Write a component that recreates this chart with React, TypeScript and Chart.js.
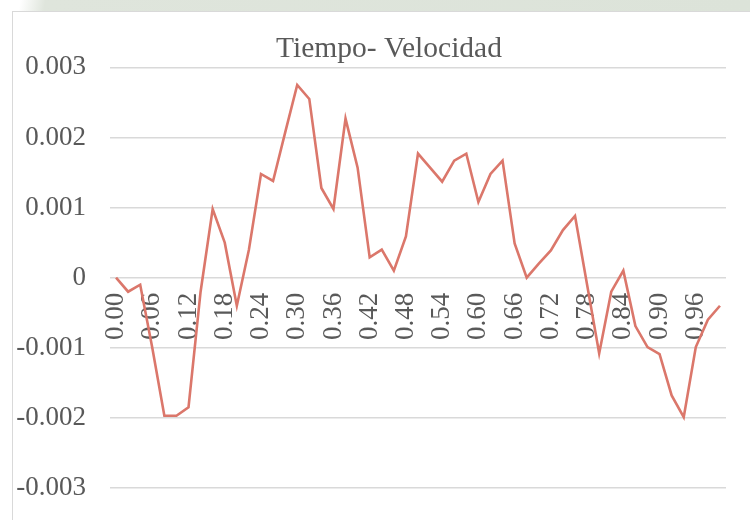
import React, { useEffect, useRef } from "react";
import { Chart, registerables } from "chart.js";

Chart.register(...registerables);

const categories: string[] = [
  "0.00", "0.02", "0.04", "0.06", "0.08", "0.10", "0.12", "0.14", "0.16", "0.18",
  "0.20", "0.22", "0.24", "0.26", "0.28", "0.30", "0.32", "0.34", "0.36", "0.38",
  "0.40", "0.42", "0.44", "0.46", "0.48", "0.50", "0.52", "0.54", "0.56", "0.58",
  "0.60", "0.62", "0.64", "0.66", "0.68", "0.70", "0.72", "0.74", "0.76", "0.78",
  "0.80", "0.82", "0.84", "0.86", "0.88", "0.90", "0.92", "0.94", "0.96", "0.98",
  "1.00",
];

const velocidad: number[] = [
  0, -0.0002, -0.0001, -0.001, -0.00197, -0.00197, -0.00185, -0.0002, 0.00098, 0.0005,
  -0.0004, 0.0004, 0.00148, 0.00138, 0.00207, 0.00275, 0.00255, 0.00128, 0.00098, 0.00227,
  0.00157, 0.00029, 0.0004, 0.0001, 0.00059, 0.00177, 0.00157, 0.00137, 0.00167, 0.00177,
  0.00108, 0.00148, 0.00167, 0.00049, 0, 0.0002, 0.00039, 0.00068, 0.00088, -0.0001,
  -0.00108, -0.0002, 0.0001, -0.00069, -0.00099, -0.00109, -0.00168, -0.00199, -0.00099, -0.0006,
  -0.0004,
];

const shownTickLabels: string[] = [
  "0.00", "0.06", "0.12", "0.18", "0.24", "0.30", "0.36", "0.42", "0.48",
  "0.54", "0.60", "0.66", "0.72", "0.78", "0.84", "0.90", "0.96",
];

const yTicks: number[] = [-0.003, -0.002, -0.001, 0, 0.001, 0.002, 0.003];

const chartTitle = "Tiempo- Velocidad";

export default function App() {
  const canvasRef = useRef<HTMLCanvasElement | null>(null);

  useEffect(() => {
    const canvas = canvasRef.current;
    if (!canvas) return;
    const font = "'Liberation Serif', 'Times New Roman', serif";
    const chart = new Chart(canvas, {
      type: "line",
      data: {
        labels: categories,
        datasets: [
          {
            label: chartTitle,
            data: velocidad,
            yAxisID: "y",
            borderColor: "#DB776B",
            backgroundColor: "#DB776B",
            borderWidth: 2.6,
            pointRadius: 0,
            tension: 0,
            fill: false,
          },
        ],
      },
      options: {
        responsive: false,
        animation: false,
        devicePixelRatio: 1,
        layout: { padding: { left: 0, right: 0, top: 0, bottom: 32 } },
        plugins: {
          legend: { display: false },
          tooltip: { enabled: false },
          title: {
            display: true,
            text: chartTitle,
            color: "#595959",
            font: { family: font, size: 29.5, weight: "normal", lineHeight: 1.2 },
            padding: { top: 32, bottom: 0 },
          },
        },
        scales: {
          x: {
            type: "category",
            position: { y: 0 } as any,
            offset: true,
            grid: { display: false, drawTicks: false },
            border: { display: false },
            afterFit: (scale: any) => {
              scale.height = 0;
            },
            ticks: {
              autoSkip: false,
              minRotation: 90,
              maxRotation: 90,
              padding: 15,
              color: "#595959",
              font: { family: font, size: 27 },
              callback: (_v: any, i: number) =>
                shownTickLabels.includes(categories[i]) ? categories[i] : null,
            },
          },
          y: {
            position: "left",
            min: yTicks[0],
            max: yTicks[yTicks.length - 1],
            afterFit: (scale: any) => {
              scale.width = 110;
              scale.paddingTop = 0;
              scale.paddingBottom = 0;
            },
            afterBuildTicks: (scale: any) => {
              scale.ticks = yTicks.map((v) => ({ value: v }));
            },
            grid: { color: "#d9d9d9", lineWidth: 1.5, drawTicks: false },
            border: { display: false },
            ticks: {
              padding: 24,
              color: "#595959",
              font: { family: font, size: 27 },
              callback: (v: any) => {
                const n = Number(Number(v).toFixed(3));
                return n === 0 ? "0" : String(n);
              },
            },
          },
          yRight: {
            position: "right",
            display: true,
            grid: { display: false, drawTicks: false },
            border: { display: false },
            ticks: { display: false },
            afterFit: (scale: any) => {
              scale.width = 52;
              scale.paddingTop = 0;
              scale.paddingBottom = 0;
            },
          },
        },
      },
    });
    return () => chart.destroy();
  }, []);

  return (
    <div
      style={{
        position: "fixed",
        left: 0,
        top: 0,
        width: 750,
        height: 520,
        overflow: "hidden",
        background: "#ffffff",
      }}
    >
      <div
        style={{
          position: "absolute",
          left: 0,
          top: 0,
          width: 750,
          height: 11,
          background:
            "linear-gradient(100deg, #ffffff 0px, #ffffff 20px, #dfe5dc 45px, #dce3d9 100%)",
        }}
      />
      <div
        style={{
          position: "absolute",
          left: 12,
          top: 11,
          width: 800,
          height: 560,
          border: "1.5px solid #d9d9d9",
          boxSizing: "border-box",
          background: "#ffffff",
        }}
      />
      <canvas
        ref={canvasRef}
        width={778}
        height={520}
        style={{ position: "absolute", left: 0, top: 0, width: 778, height: 520 }}
      />
    </div>
  );
}
